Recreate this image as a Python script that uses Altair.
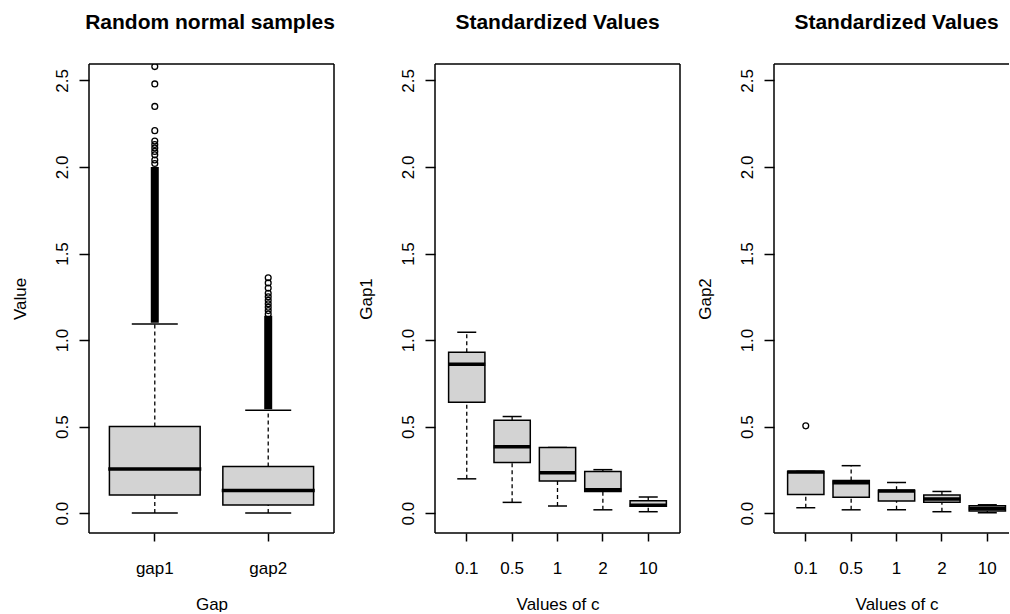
import altair as alt
import pandas as pd

FONT = "Liberation Sans"

# ---------------- Panel 1: Random normal samples ----------------
gap_cats = ["gap1", "gap2"]
gap_lo = [0.0, 0.0]
gap_q1 = [0.104, 0.047]
gap_med = [0.255, 0.131]
gap_q3 = [0.500, 0.269]
gap_hi = [1.092, 0.594]
# dense stacks of outliers (appear as a solid column)
gap_dense_lo = [1.10, 0.60]
gap_dense_hi = [2.00, 1.14]
# individually visible outliers
gap1_outliers = [2.02, 2.04, 2.07, 2.09, 2.11, 2.13, 2.15, 2.21, 2.35, 2.48, 2.58]
gap2_outliers = [1.15, 1.17, 1.19, 1.21, 1.23, 1.25, 1.27, 1.30, 1.33, 1.36]

# ---------------- Panel 2: Gap1 by c ----------------
c_cats = ["0.1", "0.5", "1", "2", "10"]
g1_lo = [0.198, 0.062, 0.041, 0.019, 0.008]
g1_q1 = [0.640, 0.292, 0.185, 0.125, 0.039]
g1_med = [0.860, 0.383, 0.233, 0.135, 0.045]
g1_q3 = [0.930, 0.537, 0.379, 0.241, 0.072]
g1_hi = [1.045, 0.558, 0.379, 0.251, 0.093]

# ---------------- Panel 3: Gap2 by c ----------------
g2_lo = [0.031, 0.019, 0.019, 0.008, 0.002]
g2_q1 = [0.107, 0.091, 0.070, 0.062, 0.012]
g2_med = [0.238, 0.175, 0.128, 0.082, 0.026]
g2_q3 = [0.241, 0.189, 0.132, 0.105, 0.042]
g2_hi = [0.241, 0.274, 0.177, 0.125, 0.048]
g2_out_cat = ["0.1"]
g2_out_val = [0.504]

titles = ["Random normal samples", "Standardized Values", "Standardized Values"]

Y_TICKS = [0.0, 0.5, 1.0, 1.5, 2.0, 2.5]
PLOT_H = 469
BOX_W = 245


def make_panel(cats, lo, q1, med, q3, hi, title, xtitle, ytitle, xscale,
               cap, medw, plot_w, right_border=True, dense=None,
               outliers=None, anchor=False, title_x=BOX_W / 2):
    box_df = pd.DataFrame({"cat": cats, "lo": lo, "q1": q1, "med": med,
                           "q3": q3, "hi": hi})
    yscale = alt.Scale(domain=[-0.115, 2.595], nice=False, zero=False)
    xaxis = alt.Axis(title=xtitle, labelAngle=0, domain=False, grid=False,
                     tickSize=8, tickWidth=1.5, tickColor="black",
                     labelFont=FONT, labelFontSize=17, labelColor="black",
                     labelPadding=32, labelBaseline="alphabetic",
                     titleFont=FONT, titleFontSize=17, titleFontWeight="normal",
                     titleColor="black", titleY=76, titleBaseline="alphabetic",
                     titleX=BOX_W / 2, titleAlign="center")
    yaxis = alt.Axis(title=ytitle, values=Y_TICKS, format=".1f", domain=False,
                     grid=False, tickSize=10, tickWidth=1.5, tickColor="black",
                     labelFont=FONT, labelFontSize=17, labelColor="black",
                     labelAngle=270, labelAlign="center",
                     labelBaseline="alphabetic", labelPadding=12,
                     titleFont=FONT, titleFontSize=17, titleFontWeight="normal",
                     titleColor="black", titleAngle=270, titleX=-64,
                     titleY=PLOT_H / 2, titleAlign="center",
                     titleBaseline="alphabetic")
    X = alt.X("cat:N", sort=cats, scale=xscale, axis=xaxis)

    base = alt.Chart(box_df)
    layers = []
    layers.append(base.mark_rule(color="black", strokeWidth=1.3,
                                 strokeDash=[4, 3]).encode(
        x=X, y=alt.Y("q3:Q", scale=yscale, axis=yaxis), y2="hi:Q"))
    layers.append(base.mark_rule(color="black", strokeWidth=1.3,
                                 strokeDash=[4, 3]).encode(
        x=X, y=alt.Y("lo:Q", scale=yscale, axis=yaxis), y2="q1:Q"))
    layers.append(base.mark_tick(color="black", size=cap, thickness=1.5,
                                 opacity=1).encode(
        x=X, y=alt.Y("hi:Q", scale=yscale, axis=yaxis)))
    layers.append(base.mark_tick(color="black", size=cap, thickness=1.5,
                                 opacity=1).encode(
        x=X, y=alt.Y("lo:Q", scale=yscale, axis=yaxis)))
    layers.append(base.mark_bar(fill="#D3D3D3", stroke="black",
                                strokeWidth=1.5).encode(
        x=X, y=alt.Y("q1:Q", scale=yscale, axis=yaxis), y2="q3:Q"))
    layers.append(base.mark_tick(color="black", size=medw, thickness=3.5,
                                 opacity=1).encode(
        x=X, y=alt.Y("med:Q", scale=yscale, axis=yaxis)))
    if dense is not None:
        ddf = pd.DataFrame({"cat": cats, "dlo": dense[0], "dhi": dense[1]})
        layers.append(alt.Chart(ddf).mark_rule(color="black", strokeWidth=8,
                                               strokeCap="butt").encode(
            x=X, y=alt.Y("dlo:Q", scale=yscale, axis=yaxis), y2="dhi:Q"))
    if outliers is not None:
        odf = pd.DataFrame({"cat": outliers[0], "val": outliers[1]})
        layers.append(alt.Chart(odf).mark_point(
            shape="circle", filled=False, color="black", size=34,
            strokeWidth=1.3, opacity=1, clip=True).encode(
            x=X, y=alt.Y("val:Q", scale=yscale, axis=yaxis)))

    one = pd.DataFrame({"k": [0]})
    # panel title
    layers.append(alt.Chart(one).mark_text(
        font=FONT, fontSize=21, fontWeight="bold", color="black",
        align="center", baseline="alphabetic").encode(
        x=alt.value(title_x), y=alt.value(-35), text=alt.value(title)))

    # plot frame (drawn as rules so the right edge can be cut off)
    right = BOX_W if right_border else plot_w - 1
    frame = alt.Chart(one).mark_rule(color="black", strokeWidth=1.5)
    layers.append(frame.encode(x=alt.value(0), y=alt.value(0),
                               y2=alt.value(PLOT_H)))
    layers.append(frame.encode(x=alt.value(0), x2=alt.value(right),
                               y=alt.value(0)))
    layers.append(frame.encode(x=alt.value(0), x2=alt.value(right),
                               y=alt.value(PLOT_H)))
    if right_border:
        layers.append(frame.encode(x=alt.value(BOX_W), y=alt.value(0),
                                   y2=alt.value(PLOT_H)))
    if anchor:
        # invisible layout anchor at the page's top-left corner
        layers.append(alt.Chart(one).mark_rect(opacity=0).encode(
            x=alt.value(-89), x2=alt.value(-88),
            y=alt.value(-64), y2=alt.value(-63)))

    return alt.layer(*layers).properties(
        width=plot_w, height=PLOT_H,
        view=alt.ViewBackground(strokeOpacity=0, fill="white"))


# outlier tables
o1_cat = ["gap1"] * len(gap1_outliers) + ["gap2"] * len(gap2_outliers)
o1_val = gap1_outliers + gap2_outliers

# panel 1: plot area 252 wide (for spacing), box drawn over the first 245 px
sc1 = alt.Scale(domain=gap_cats, paddingInner=0.2, paddingOuter=0.18,
                range=[0, BOX_W])
sc2 = alt.Scale(domain=c_cats, paddingInner=0.2, paddingOuter=0.3)
# panel 3: right side cut off by the picture edge
sc3 = alt.Scale(domain=c_cats, paddingInner=0.2, paddingOuter=0.2, align=0.75)

p1 = make_panel(gap_cats, gap_lo, gap_q1, gap_med, gap_q3, gap_hi,
                titles[0], "Gap", "Value", sc1,
                cap=46, medw=93, plot_w=252,
                dense=(gap_dense_lo, gap_dense_hi), outliers=(o1_cat, o1_val),
                anchor=True, title_x=121)
p2 = make_panel(c_cats, g1_lo, g1_q1, g1_med, g1_q3, g1_hi,
                titles[1], "Values of c", "Gap1", sc2,
                cap=19, medw=37, plot_w=245)
p3 = make_panel(c_cats, g2_lo, g2_q1, g2_med, g2_q3, g2_hi,
                titles[2], "Values of c", "Gap2", sc3,
                cap=19, medw=37, plot_w=236, right_border=False,
                outliers=(g2_out_cat, g2_out_val))

chart = alt.hconcat(p1, p2, p3, spacing=94, bounds="flush").properties(
    padding=0, background="white")

chart.save("out.html", embed_options={"renderer": "svg", "actions": False})
